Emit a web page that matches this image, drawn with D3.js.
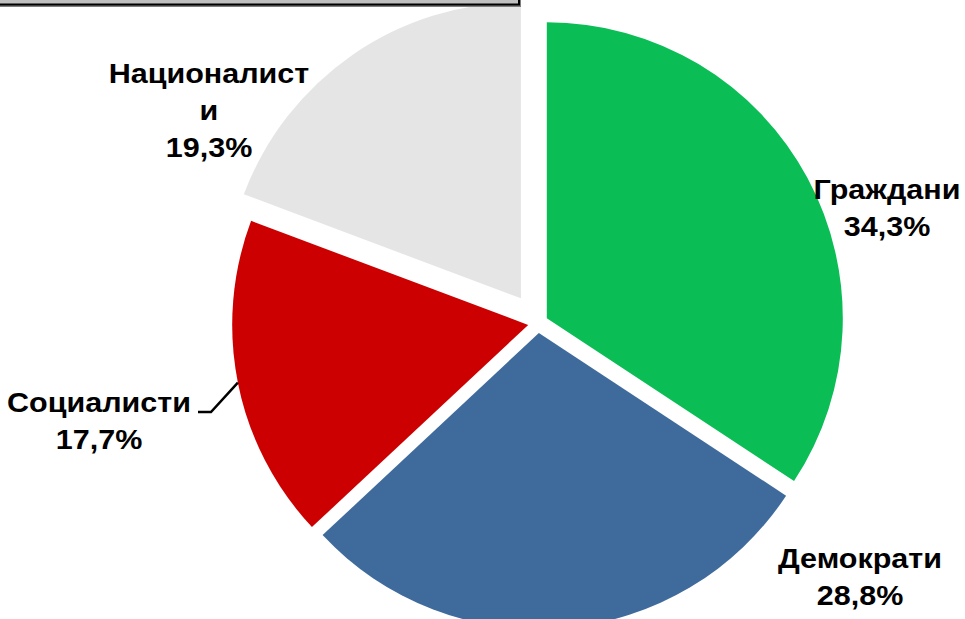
<!DOCTYPE html>
<html>
<head>
<meta charset="utf-8">
<script src="https://cdn.jsdelivr.net/npm/d3@7"></script>
<style>
  body { margin: 0; background: #fff; }
  svg { display: block; }
  .lbl { font-family: "Liberation Sans", Arial, sans-serif; font-weight: bold; font-size: 28px; fill: #000; }
</style>
</head>
<body>
<div id="chart"></div>
<script>
//chart data
var parties = ["Граждани", "Демократи", "Социалисти", "Националисти"];
var shares = [34.3, 28.8, 17.7, 19.3];
var partyColors = ["#0abe55", "#3f6a9c", "#cc0000", "#e5e5e5"];
//how the party name wraps in the label
var nameLines = [["Граждани"], ["Демократи"], ["Социалисти"], ["Националист", "и"]];

var W = 965, H = 619;
var cx = 538, cy = 323, R = 296;
//explode distance per slice
var explode = [10, 10, 10, 30];
//label anchors (centre x, first baseline)
var labelAt = [[887, 199], [860, 568], [99, 412], [209, 83]];
var lineGap = 37;
var stretchX = 1.09;

var formatPct = function(v){ return d3.format(".1f")(v).replace(".", ",") + "%"; };

function initialize(){
  var svg = d3.select("#chart").append("svg")
      .attr("width", W)
      .attr("height", H);

  var pie = d3.pie().sort(null).value(function(d){ return d; });
  var arcs = pie(shares);
  var arc = d3.arc().innerRadius(0).outerRadius(R);

  function dir(d){
    var a = (d.startAngle + d.endAngle) / 2;
    return [Math.sin(a), -Math.cos(a)];
  }

  //slices
  svg.append("g")
    .selectAll("path")
    .data(arcs)
    .enter()
    .append("path")
    .attr("d", arc)
    .attr("fill", function(d, i){ return partyColors[i]; })
    .attr("transform", function(d, i){
      var u = dir(d);
      return "translate(" + (cx + u[0] * explode[i]) + "," + (cy + u[1] * explode[i]) + ")";
    });

  //leader line for socialists
  var s = arcs[2], u = dir(s);
  var px = cx + u[0] * (explode[2] + R), py = cy + u[1] * (explode[2] + R);
  var ly = labelAt[2][1];
  svg.append("path")
    .attr("d", d3.line()([[px, py], [211, ly], [198, ly]]))
    .attr("fill", "none")
    .attr("stroke", "#000")
    .attr("stroke-width", 2.5);

  //labels
  parties.forEach(function(p, i){
    var lines = nameLines[i].concat([formatPct(shares[i])]);
    var t = svg.append("text")
      .attr("class", "lbl")
      .attr("text-anchor", "middle")
      .attr("transform", "translate(" + labelAt[i][0] + "," + labelAt[i][1] + ") scale(" + stretchX + ",1)");
    lines.forEach(function(l, k){
      t.append("tspan")
        .attr("x", 0)
        .attr("y", k * lineGap)
        .text(l);
    });
  });

  //cut-off title box at top
  svg.append("rect")
    .attr("x", -4).attr("y", -4)
    .attr("width", 525).attr("height", 11)
    .attr("fill", "#7f7f7f");
  svg.append("rect")
    .attr("x", -4).attr("y", -4)
    .attr("width", 523).attr("height", 8.5)
    .attr("fill", "#c0c0c0")
    .attr("stroke", "#000")
    .attr("stroke-width", 2);
}

initialize();
</script>
</body>
</html>
